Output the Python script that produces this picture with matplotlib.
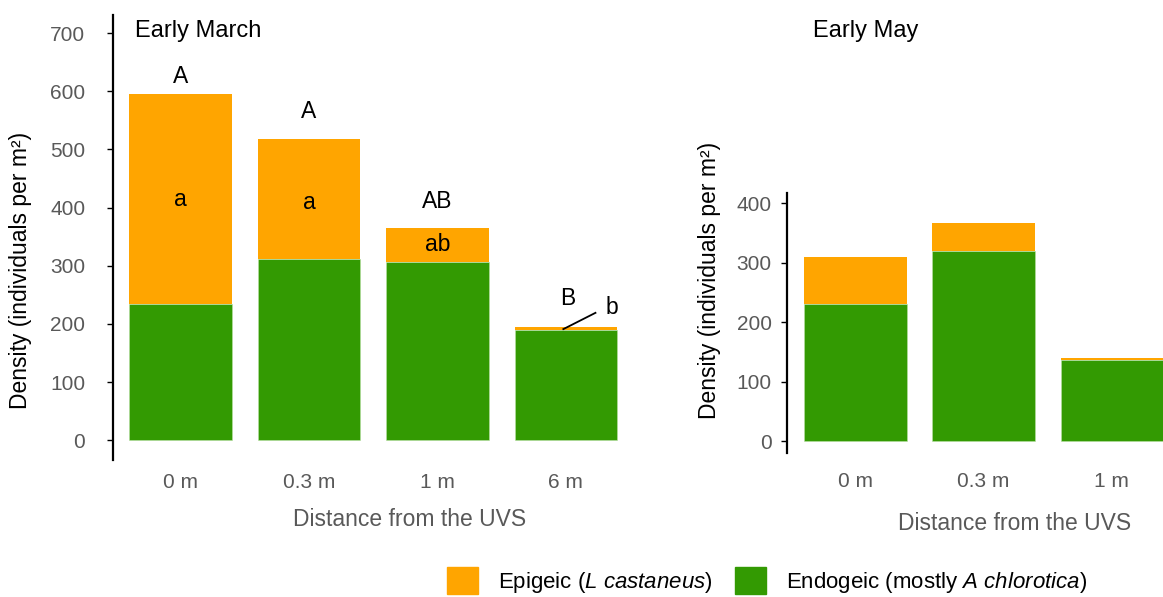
import matplotlib
matplotlib.use('Agg')
import matplotlib.pyplot as plt
from matplotlib.patches import Patch

matplotlib.rcParams['font.family'] = ['Liberation Sans', 'DejaVu Sans']
matplotlib.rcParams['mathtext.fontset'] = 'custom'
matplotlib.rcParams['mathtext.rm'] = 'Liberation Sans'
matplotlib.rcParams['mathtext.it'] = 'Liberation Sans:italic'

# data
march_sites = ['0 m', '0.3 m', '1 m', '6 m']
march_endogeic = [234, 311, 306, 189]
march_epigeic = [361, 207, 59, 5]
march_upper = ['A', 'A', 'AB', 'B']
march_lower = ['a', 'a', 'ab', 'b']

may_sites = ['0 m', '0.3 m', '1 m']
may_endogeic = [231, 319, 137]
may_epigeic = [79, 48, 2]

ORANGE = '#FFA500'
GREEN = '#339A02'
TICKGREY = '#595959'
FS = 15
LFS = 16.5

W, H = 1163, 597
fig = plt.figure(figsize=(W / 100, H / 100), dpi=100)


def px_axes(x0, x1, ytop, ybot):
    return fig.add_axes([x0 / W, (H - ybot) / H, (x1 - x0) / W, (ybot - ytop) / H])


def style(ax, ypad, xpad):
    for s in ['top', 'right', 'bottom']:
        ax.spines[s].set_visible(False)
    ax.spines['left'].set_linewidth(1.6)
    ax.tick_params(axis='y', labelcolor=TICKGREY, color='black', labelsize=FS,
                   length=4, width=1, pad=ypad)
    ax.tick_params(axis='x', length=0, labelsize=FS, labelcolor=TICKGREY, pad=xpad)
    ax.set_ylabel('Density (individuals per m²)', fontsize=LFS, color='black')
    ax.yaxis.label.set_va('center')
    ax.set_xlabel('Distance from the UVS', fontsize=LFS, color=TICKGREY)
    ax.xaxis.label.set_va('center')


def stacked(ax, sites, endo, epi):
    x = range(len(sites))
    ax.bar(x, endo, width=0.8, color=GREEN, edgecolor='#b9e0a5', linewidth=0.4)
    ax.bar(x, epi, width=0.8, bottom=endo, color=ORANGE, linewidth=0)
    ax.set_xticks(list(x))
    ax.set_xticklabels(sites)


# left panel: early March
ax1 = px_axes(113, 643, 15, 460)
stacked(ax1, march_sites, march_endogeic, march_epigeic)
ax1.set_xlim(-0.525, 3.6)
ax1.set_ylim(-34, 731)
ax1.set_yticks(range(0, 701, 100))
style(ax1, ypad=16, xpad=9)
ax1.yaxis.set_label_coords(-0.174, 0.425)
ax1.xaxis.set_label_coords(0.56, -0.133)

upper_y = [625, 565, 410, 244]
lower_y = [413, 408, 336]
for i, t in enumerate(march_upper):
    ax1.text(i + (0.015 if i == 3 else 0), upper_y[i], t, ha='center', va='center', fontsize=16.5)
for i, t in enumerate(march_lower[:3]):
    ax1.text(i, lower_y[i], t, ha='center', va='center', fontsize=16.5)
ax1.plot([2.98, 3.23], [191, 219], color='black', lw=1.3)
ax1.text(3.36, 229, march_lower[3], ha='center', va='center', fontsize=16.5)

# right panel: early May
ax2 = px_axes(787, 1163, 193, 453)
stacked(ax2, may_sites, may_endogeic, may_epigeic)
ax2.set_xlim(-0.535, 2.4)
ax2.set_ylim(-20, 417)
ax2.set_yticks(range(0, 401, 100))
style(ax2, ypad=7, xpad=14)
ax2.yaxis.set_label_coords(-0.205, 0.665)
ax2.xaxis.set_label_coords(0.606, -0.273)

fig.text(135 / W, 1 - 31 / H, 'Early March', fontsize=17, va='center', ha='left')
fig.text(813 / W, 1 - 31 / H, 'Early May', fontsize=17, va='center', ha='left')

handles = [Patch(color=ORANGE), Patch(color=GREEN)]
labels = ['Epigeic ($\\it{L\\ castaneus}$)', 'Endogeic (mostly $\\it{A\\ chlorotica}$)']
fig.legend(handles, labels, loc='center', bbox_to_anchor=(767 / W, 1 - 581 / H),
           ncol=2, frameon=False, fontsize=16, handlelength=1.4, handleheight=1.45,
           handletextpad=0.9, columnspacing=1.0, borderpad=0)

fig.savefig('out.png', dpi=100)
